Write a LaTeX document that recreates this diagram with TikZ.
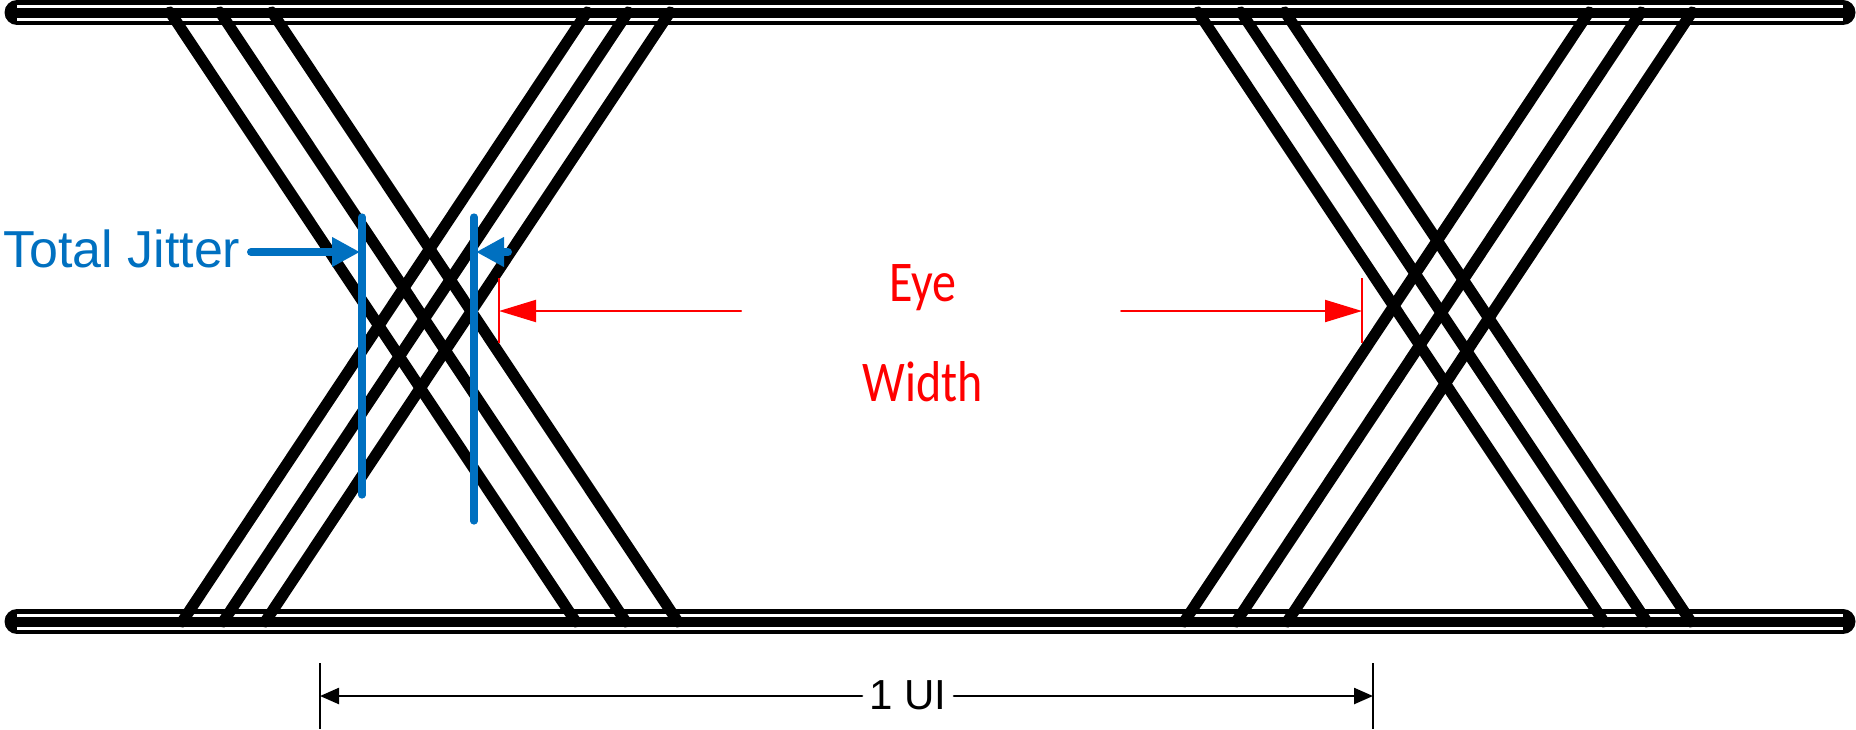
\documentclass[tikz,border=0pt]{standalone}
\usepackage{fontspec}
\setmainfont{Liberation Sans}
\newfontfamily\calibri{Carlito}
\usetikzlibrary{positioning,arrows.meta}
\definecolor{jitblue}{RGB}{0,112,192}
\tikzset{
  rail/.style={line width=12.5pt, line cap=round},
  railgap/.style={white, line width=1.5pt},
  trace/.style={line width=5.6pt, line cap=round},
  jitline/.style={jitblue, line width=3.6pt, line cap=round},
  jitarrow/.style={jitblue, line width=4pt, line cap=round, shorten >=1pt, -{Triangle[length=14pt,width=14pt]}},
  eyetext/.style={anchor=base, inner sep=0pt, text=red, font=\calibri\fontsize{24}{28}\selectfont},
  eyearrow/.style={red, line width=1pt, line cap=round, -{Triangle[length=18.5pt,width=11pt]}},
  eyetick/.style={red, line width=1pt},
  uiarrow/.style={line width=1.2pt, line cap=round, -{Triangle[length=9.5pt,width=8pt]}},
  uitick/.style={line width=1.2pt}
}
\begin{document}
\begin{tikzpicture}[x=0.5pt,y=-0.5pt]
\useasboundingbox (0,0) rectangle (1856,729);
% rails
\foreach \y in {12.5,621.5}{
\draw[rail] (17,\y) -- (1843,\y);
\draw[railgap] (17,\y-6.5) -- (1843,\y-6.5);
\draw[railgap] (17,\y+6.5) -- (1843,\y+6.5);}
% traces
\foreach \t in {170,220,272,1198,1241,1285}
\draw[trace] (\t,12) -- (\t+406,622);
\foreach \b in {182,223,265,1184,1236,1287}
\draw[trace] (\b,622) -- (\b+405,12);
% total jitter
\coordinate (j1t) at (362,217);
\coordinate (j1b) at (362,495);
\coordinate (j2t) at (474,217);
\coordinate (j2b) at (474,521);
\draw[jitline] (j1t) -- (j1b);
\draw[jitline] (j2t) -- (j2b);
\node[anchor=west, inner sep=0pt, text=jitblue, font=\fontsize{26}{30}\selectfont] (jit) at (3,249) {Total Jitter};
\coordinate (ja) at (251,252);
\coordinate (jb) at (508,252);
\draw[jitarrow] (ja) -- (j1t |- ja);
\draw[jitarrow] (jb) -- (j2t |- jb);
% eye width
\node[eyetext] (eye) at (923,301) {\scalebox{1}[1.2]{Eye}};
\node[eyetext] (wid) at (923,401) {\scalebox{1}[1.2]{Width}};
\coordinate (ewl) at (499,311);
\coordinate (ewr) at (1362,311);
\draw[eyetick] (499,278) -- (499,343);
\draw[eyetick] (1362,278) -- (1362,343);
\coordinate (ea) at (741,311);
\coordinate (eb) at (1121,311);
\draw[eyearrow] (ea) -- (ewl);
\draw[eyearrow] (eb) -- (ewr);
% unit interval
\node[inner sep=3.5pt, font=\fontsize{21}{25}\selectfont] (ui) at (908,695) {1 UI};
\coordinate (uil) at (320,696);
\coordinate (uir) at (1373,696);
\draw[uitick] (320,663) -- (320,729);
\draw[uitick] (1373,663) -- (1373,729);
\draw[uiarrow] (ui.west |- uil) -- (uil);
\draw[uiarrow] (ui.east |- uir) -- (uir);
\end{tikzpicture}
\end{document}
